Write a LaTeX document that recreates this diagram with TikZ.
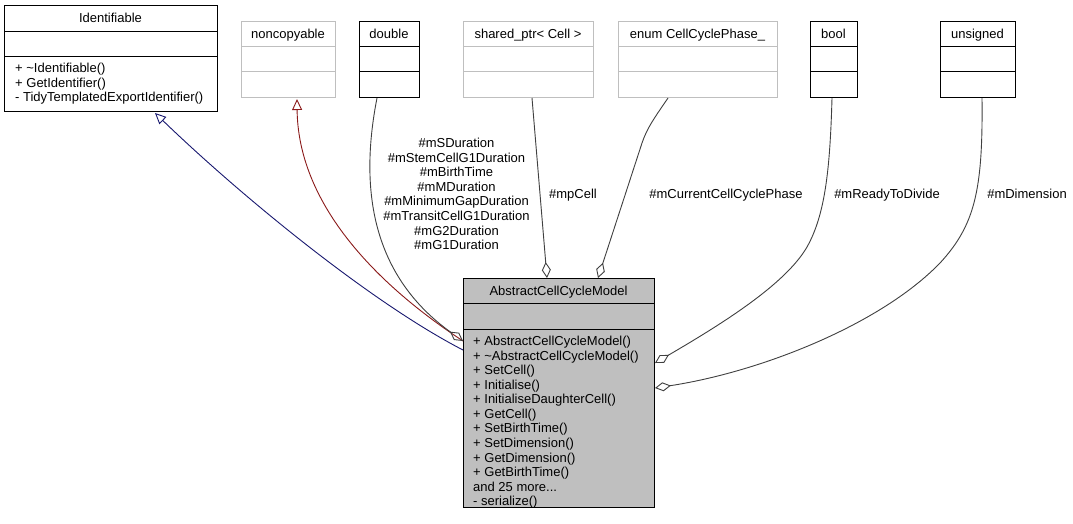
\documentclass[tikz,border=0pt]{standalone}
\usepackage{fontspec}
\setmainfont{Liberation Sans}
\usetikzlibrary{arrows.meta,calc}
\definecolor{edgegrey}{HTML}{404040}
\definecolor{navyedge}{HTML}{191970}
\definecolor{rededge}{HTML}{8B1A1A}
\definecolor{boxgrey}{HTML}{BFBFBF}
\newcommand\mydots{...}
\tikzset{
  txt/.style={font=\fontsize{13}{14.6}\selectfont, inner sep=0pt, text=black},
  boxblack/.style={draw=black, line width=1pt},
  boxlight/.style={draw=boxgrey, line width=1pt},
  boxmain/.style={draw=black, fill=boxgrey, line width=1pt},
  divblack/.style={draw=black, line width=1pt},
  divlight/.style={draw=boxgrey, line width=1pt},
  aggr/.style={draw=edgegrey, line width=0.9pt, -{Diamond[open, length=16pt, width=9pt]}},
  inheritblue/.style={draw=navyedge, line width=0.9pt, -{Triangle[open, length=11pt, width=10pt]}},
  inheritred/.style={draw=rededge, line width=0.9pt, -{Triangle[open, length=11pt, width=10pt]}},
}
\newcommand\umlbox[8]{%
  \node[#8, anchor=north west, inner sep=0pt, minimum width={(#4-#2)*1pt}, minimum height={(#5-#3)*1pt}] (#1) at (#2,#3) {};
}
\begin{document}
\begin{tikzpicture}[x=1pt,y=-1pt]
\useasboundingbox[fill=white] (0,0) rectangle (1073,523);

% ---------- boxes ----------
\umlbox{ident}{4}{5}{217}{111}{31.5}{56}{boxblack}
\draw[divblack] (4,31.5) -- (217,31.5) (4,56) -- (217,56);
\node[txt, anchor=base] (identT) at (110.5,22.6) {Identifiable};
\node[txt, anchor=base west] (identM1) at (15,72.6) {+ \textasciitilde Identifiable()};
\node[txt, anchor=base west] (identM2) at (15,87.2) {+ GetIdentifier()};
\node[txt, anchor=base west] (identM3) at (15,101.8) {- TidyTemplatedExportIdentifier()};

\umlbox{noncop}{241}{21}{335}{97}{46}{71}{boxlight}
\draw[divlight] (241,46) -- (335,46) (241,71) -- (335,71);
\node[txt, anchor=base] (noncopT) at (288,38.1) {noncopyable};

\umlbox{dbl}{359}{21}{419}{97}{46}{71}{boxblack}
\draw[divblack] (359,46) -- (419,46) (359,71) -- (419,71);
\node[txt, anchor=base] (dblT) at (389,38.1) {double};

\umlbox{shp}{463}{21}{593}{97}{46}{71}{boxlight}
\draw[divlight] (463,46) -- (593,46) (463,71) -- (593,71);
\node[txt, anchor=base] (shpT) at (528,38.1) {shared\_ptr< Cell >};

\umlbox{enm}{618}{21}{777}{97}{46}{71}{boxlight}
\draw[divlight] (618,46) -- (777,46) (618,71) -- (777,71);
\node[txt, anchor=base] (enmT) at (697.5,38.1) {enum CellCyclePhase\_};

\umlbox{bool}{810}{21}{857}{97}{46}{71}{boxblack}
\draw[divblack] (810,46) -- (857,46) (810,71) -- (857,71);
\node[txt, anchor=base] (boolT) at (833.5,38.1) {bool};

\umlbox{uns}{940}{21}{1015}{97}{46}{71}{boxblack}
\draw[divblack] (940,46) -- (1015,46) (940,71) -- (1015,71);
\node[txt, anchor=base] (unsT) at (977.5,38.1) {unsigned};

\umlbox{main}{463}{278}{654}{507}{303}{329}{boxmain}
\draw[divblack] (463,303) -- (654,303) (463,329) -- (654,329);
\node[txt, anchor=base] (mainT) at (558.5,295.2) {AbstractCellCycleModel};
\foreach \t [count=\i] in {+ AbstractCellCycleModel(), + \textasciitilde AbstractCellCycleModel(), + SetCell(), + Initialise(), + InitialiseDaughterCell(), + GetCell(), + SetBirthTime(), + SetDimension(), + GetDimension(), + GetBirthTime(), {and 25 more\mydots}, - serialize()}
  \node[txt, anchor=base west] (mainM\i) at (473,{345.6+14.55*(\i-1)}) {\t};

% ---------- connector end points ----------
\coordinate (pIdent) at ($(ident.south west)+(151,1)$);
\coordinate (pNoncop) at ($(noncop.south west)+(56,1)$);
\coordinate (pDbl) at ($(dbl.south west)+(18,0)$);
\coordinate (pShp) at ($(shp.south west)+(69,0)$);
\coordinate (pEnm) at ($(enm.south west)+(50,0)$);
\coordinate (pBool) at ($(bool.south west)+(22,0)$);
\coordinate (pUns) at ($(uns.south west)+(42,0)$);
\coordinate (mBlue) at ($(main.north west)+(0,72)$);
\coordinate (mRed) at ($(main.north west)+(0,63)$);
\coordinate (mDbl) at ($(main.north west)+(0,63)$);
\coordinate (mShp) at ($(main.north west)+(84,0)$);
\coordinate (mEnm) at ($(main.north west)+(135,0)$);
\coordinate (mBool) at ($(main.north east)+(0,85)$);
\coordinate (mUns) at ($(main.north east)+(0,110)$);

% ---------- connectors ----------
\draw[inheritblue] (mBlue) .. controls (370,302) and (240,195) .. (pIdent);
\draw[inheritred] (mRed) .. controls (370,280) and (298,200) .. (pNoncop);
\draw[aggr] (pDbl) .. controls (355,210) and (385,285) .. (mDbl);
\draw[aggr] (pShp) -- (mShp);
\draw[aggr] (pEnm) .. controls (655,117) and (647,128) .. (642,143) -- (mEnm);
\draw[aggr] (pBool) .. controls (830,170) and (825,215) .. (807,247) .. controls (785,285) and (720,325) .. (mBool);
\draw[aggr] (pUns) .. controls (983,190) and (975,225) .. (940,263) .. controls (880,325) and (760,372) .. (mUns);

% ---------- labels ----------
\foreach \t [count=\i] in {\#mSDuration, \#mStemCellG1Duration, \#mBirthTime, \#mMDuration, \#mMinimumGapDuration, \#mTransitCellG1Duration, \#mG2Duration, \#mG1Duration}
  \node[txt, anchor=base] (lDbl\i) at (456.5,{147.5+14.6*(\i-1)}) {\t};
\node[txt, anchor=base] (lShp) at (573,198.6) {\#mpCell};
\node[txt, anchor=base] (lEnm) at (726,198.6) {\#mCurrentCellCyclePhase};
\node[txt, anchor=base] (lBool) at (887,198.6) {\#mReadyToDivide};
\node[txt, anchor=base] (lUns) at (1027,198.6) {\#mDimension};
\end{tikzpicture}
\end{document}
